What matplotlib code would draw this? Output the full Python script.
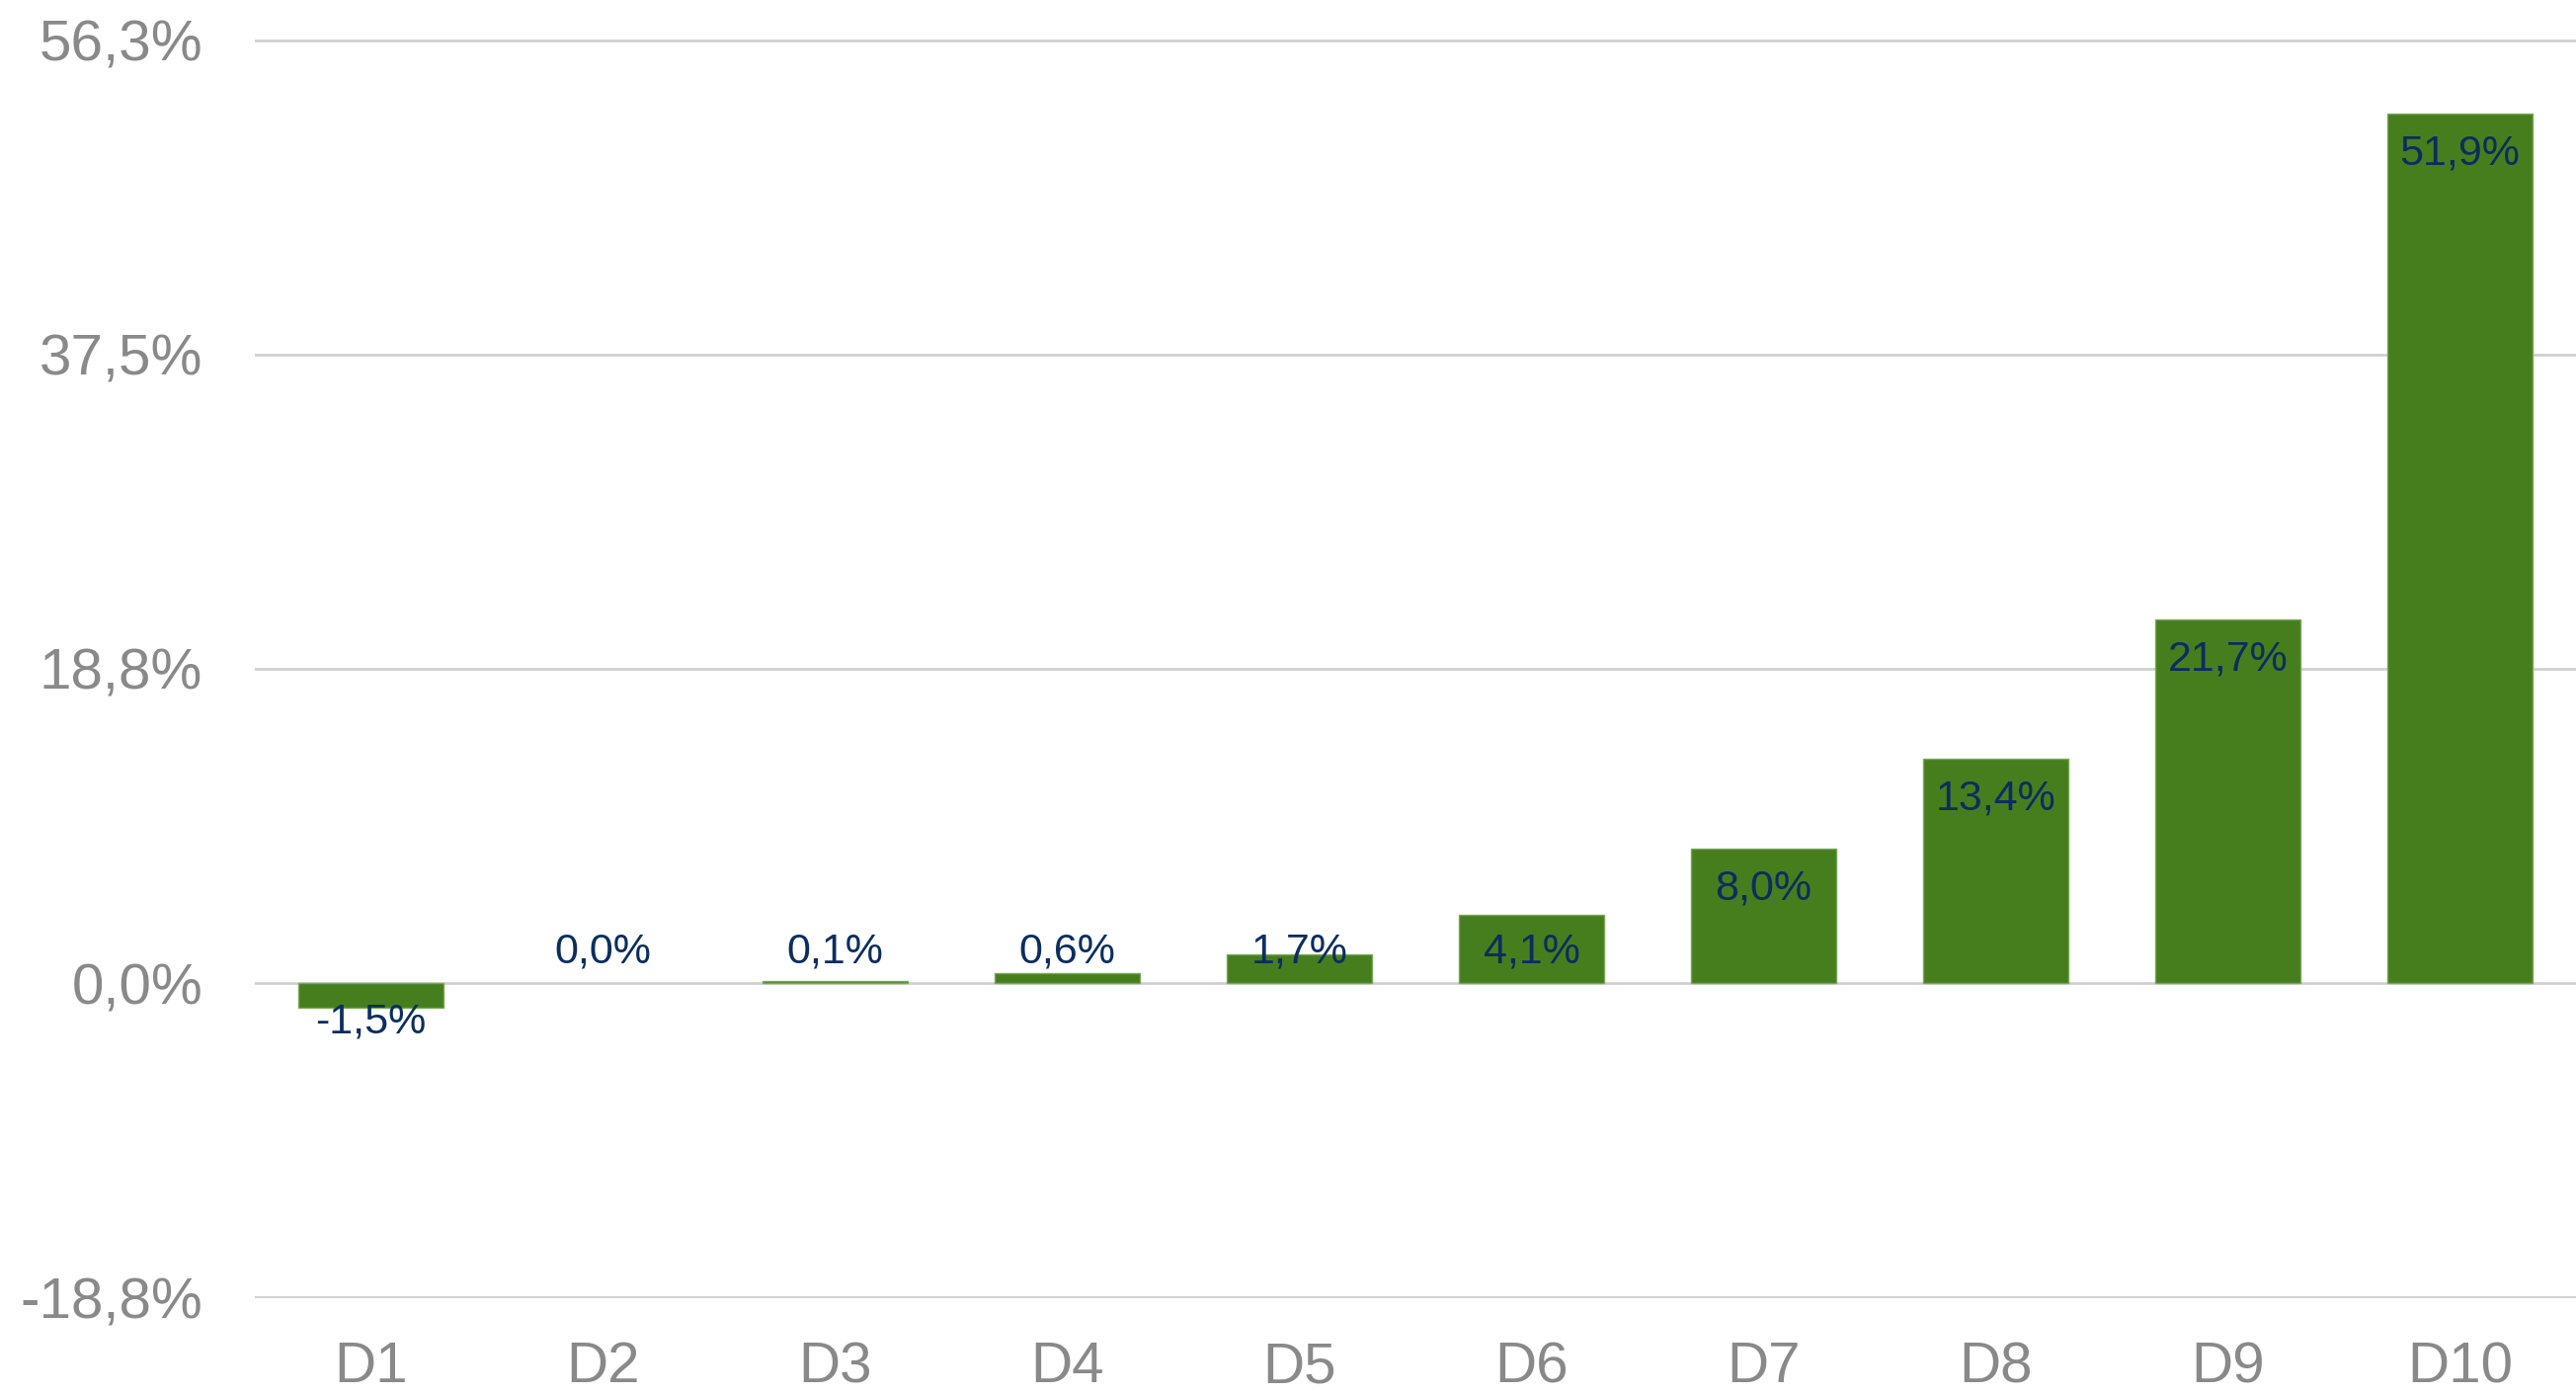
import matplotlib
matplotlib.use("Agg")
import matplotlib.pyplot as plt
import numpy as np

categories = ["D1", "D2", "D3", "D4", "D5", "D6", "D7", "D8", "D9", "D10"]
values = [-1.5, 0.0, 0.1, 0.6, 1.7, 4.1, 8.0, 13.4, 21.7, 51.9]
y_ticks = [-18.77, 0.0, 18.77, 37.53, 56.3]

plt.rcParams['font.family'] = ['Liberation Sans', 'DejaVu Sans']

fig = plt.figure(figsize=(26.08, 14.11), dpi=100)
ax = fig.add_axes([0.0989, 0.0687, 0.9011, 0.903])

x = np.arange(len(categories))
edges = ["none" if v == 0 else "#78a85a" for v in values]
ax.bar(x, values, width=0.625, color="#467e1e", edgecolor=edges, linewidth=1, zorder=3)

ax.set_xlim(-0.5, len(categories) - 0.5)
ax.set_ylim(y_ticks[0] - 0.05, y_ticks[-1] + 0.05)
ax.set_yticks(y_ticks)
ax.set_yticklabels([f"{t:.1f}%".replace(".", ",") for t in y_ticks])
ax.set_xticks(x)
ax.set_xticklabels(categories)

ax.grid(axis="y", color="#d0d0d0", linewidth=2, zorder=0)
ax.grid(axis="x", visible=False)
for s in ax.spines.values():
    s.set_visible(False)
ax.tick_params(axis="y", length=0, pad=38, labelsize=42, labelcolor="#898989")
ax.tick_params(axis="x", length=0, pad=31, labelsize=42, labelcolor="#898989")

# labels sit inside the bar end, small bars get them just past the end
off = 2.12
for xi, v in zip(x, values):
    sign = -1 if v < 0 else 1
    y = sign * max(abs(v) - off, 2.1) - 0.25
    ax.text(xi, y, f"{v:.1f}%".replace(".", ","), ha="center", va="center",
            fontsize=31, color="#0c2d5e", zorder=4)

plt.savefig("out.png", dpi=100)
